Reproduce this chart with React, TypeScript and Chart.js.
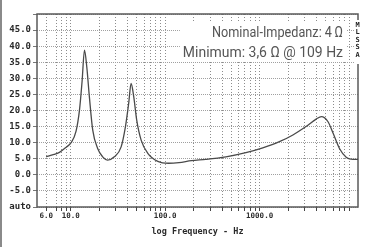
import React, { useEffect, useRef } from "react";
import { Chart, registerables } from "chart.js";

Chart.register(...registerables);

// Measured impedance curve (frequency in Hz, impedance in Ohm)
const frequencies = [
  5.5, 6.4, 7.6, 8.9, 10.1, 11.4, 12.4, 13.2, 14.0, 14.8, 15.8, 17.1, 19.3, 21.8,
  24.6, 29, 34.2, 38, 41.1, 43.6, 46.5, 50, 55.7, 65.5, 83.6, 109, 140, 190, 270,
  440, 716, 1080, 1620, 2250, 3100, 4000, 4500, 5300, 6000, 7000, 8300, 9700, 11000,
];
const impedance = [
  5.6, 6.2, 7.0, 8.5, 10.0, 13.6, 20.2, 29.0, 38.8, 33.6, 24.0, 14.0, 8.2, 5.6,
  4.6, 5.6, 8.7, 15.0, 22.2, 28.4, 24.3, 17.0, 10.8, 6.7, 4.2, 3.6, 3.8, 4.4, 4.8,
  5.6, 6.9, 8.4, 10.3, 12.4, 15.0, 17.4, 18.1, 16.5, 12.9, 8.2, 5.4, 4.8, 4.8,
];

// X axis: grid/tick positions and labelled ticks
const xGridValues = [
  5.5, 7, 8, 9, 10, 20, 30, 40, 50, 60, 70, 80, 90, 100, 200, 300, 400, 500, 600,
  700, 800, 900, 1000, 2000, 3000, 4000, 5000, 6000, 7000, 8000, 9000,
];
const xLabelValues = [5.5, 10, 100, 1000];
const xLabelTexts = ["6.0", "10.0", "100.0", "1000.0"];
const xMin = 4.4;
const xMax = 11000;

// Y axis
const yTickValues = [-10, -5, 0, 5, 10, 15, 20, 25, 30, 35, 40, 45, 50];
const yTickTexts = ["auto", "-5.0", "0.0", "5.0", "10.0", "15.0", "20.0", "25.0", "30.0", "35.0", "40.0", "45.0", ""];

const xTitle = "log Frequency - Hz";
const annotationLines = ["Nominal-Impedanz: 4\u2009\u03A9", "Minimum: 3,6 \u03A9 @ 109 Hz"];
const annotationScale = [0.845, 0.93];
const sideLabel = ["M", "L", "S", "S", "A"];

const framePlugin = {
  id: "frame",
  beforeDatasetsDraw(chart: any) {
    const { ctx, chartArea: a } = chart;
    ctx.save();
    ctx.setLineDash([]);
    ctx.strokeStyle = "#5a5a5a";
    ctx.lineWidth = 1.5;
    ctx.strokeRect(a.left, a.top, a.right - a.left, a.bottom - a.top);
    ctx.restore();
  },
  afterDraw(chart: any) {
    const { ctx, chartArea: a } = chart;
    ctx.save();
    ctx.font = '15px Roboto, "Noto Sans", sans-serif';
    const rightX = a.right - 15;
    const w = Math.max(...annotationLines.map((t, i) => ctx.measureText(t).width * annotationScale[i]));
    ctx.fillStyle = "#fff";
    ctx.fillRect(rightX - w - 3, a.top + 8, w + 7, 38);
    ctx.fillStyle = "#555";
    ctx.textBaseline = "middle";
    ctx.textAlign = "right";
    annotationLines.forEach((t, i) => {
      ctx.save();
      ctx.translate(rightX, a.top + 19 + i * 20);
      ctx.scale(annotationScale[i], 1);
      ctx.fillText(t, 0, 0);
      ctx.restore();
    });
    // side label
    ctx.fillStyle = "#fff";
    ctx.fillRect(a.right - 4, a.top + 6, 8, 44);
    ctx.font = 'bold 7px "DejaVu Sans Mono", monospace';
    ctx.fillStyle = "#222";
    ctx.textAlign = "center";
    sideLabel.forEach((c, i) => ctx.fillText(c, a.right - 0.5, a.top + 11 + i * 7.5));
    ctx.restore();
  },
};

export default function App() {
  const canvasRef = useRef<HTMLCanvasElement | null>(null);

  useEffect(() => {
    if (!canvasRef.current) return;
    const chart = new Chart(canvasRef.current, {
      type: "line",
      data: {
        datasets: [
          {
            data: frequencies.map((f, i) => ({ x: f, y: impedance[i] })),
            borderColor: "#4a4a4a",
            borderWidth: 1.3,
            pointRadius: 0,
            fill: false,
            cubicInterpolationMode: "monotone",
          },
        ],
      },
      options: {
        responsive: false,
        animation: false,
        events: [],
        layout: { padding: { top: 14, right: 9, left: 0, bottom: 0 } },
        plugins: { legend: { display: false }, tooltip: { enabled: false } },
        scales: {
          x: {
            type: "logarithmic",
            min: xMin,
            max: xMax,
            bounds: "data",
            afterBuildTicks: (scale: any) => {
              scale.ticks = xGridValues.map((v) => ({ value: v }));
            },
            afterFit: (scale: any) => {
              scale.height = 40;
            },
            ticks: {
              autoSkip: false,
              maxRotation: 0,
              minRotation: 0,
              padding: 1,
              color: "#2a2a2a",
              font: { family: '"DejaVu Sans Mono", monospace', size: 7.5, weight: "bold" },
              callback: (value: any) => {
                const idx = xLabelValues.indexOf(Number(value));
                return idx >= 0 ? xLabelTexts[idx] : "";
              },
            },
            grid: {
              color: "#8c8c8c",
              lineWidth: 1,
              tickLength: 4,
              tickColor: "#444",
              tickBorderDash: [],
            },
            border: { display: false, dash: [1, 2] },
            title: {
              display: true,
              text: xTitle,
              color: "#2a2a2a",
              font: { family: '"DejaVu Sans Mono", monospace', size: 8.5, weight: "bold" },
              padding: { top: 0, bottom: 10 },
            },
          },
          y: {
            type: "linear",
            min: -10,
            max: 50,
            afterBuildTicks: (scale: any) => {
              scale.ticks = yTickValues.map((v) => ({ value: v }));
            },
            afterFit: (scale: any) => {
              scale.width = 37;
            },
            ticks: {
              autoSkip: false,
              padding: 2,
              color: "#2a2a2a",
              font: { family: '"DejaVu Sans Mono", monospace', size: 9, weight: "bold" },
              callback: (value: any) => {
                const idx = yTickValues.indexOf(Number(value));
                return idx >= 0 ? yTickTexts[idx] : "";
              },
            },
            grid: {
              color: "#a0a0a0",
              lineWidth: 1,
              tickLength: 4,
              tickColor: "#777",
            },
            border: { display: false, dash: [1, 1] },
          },
        },
      },
      plugins: [framePlugin],
    } as any);
    return () => chart.destroy();
  }, []);

  return (
    <div
      style={{
        position: "fixed",
        left: 0,
        top: 0,
        width: 367,
        height: 247,
        background: "#fff",
      }}
    >
      <canvas ref={canvasRef} width={367} height={247} style={{ width: 367, height: 247, display: "block" }} />
      <div style={{ position: "absolute", left: 0, top: 0, width: 2, height: 247, background: "#8a8a8a" }} />
    </div>
  );
}
